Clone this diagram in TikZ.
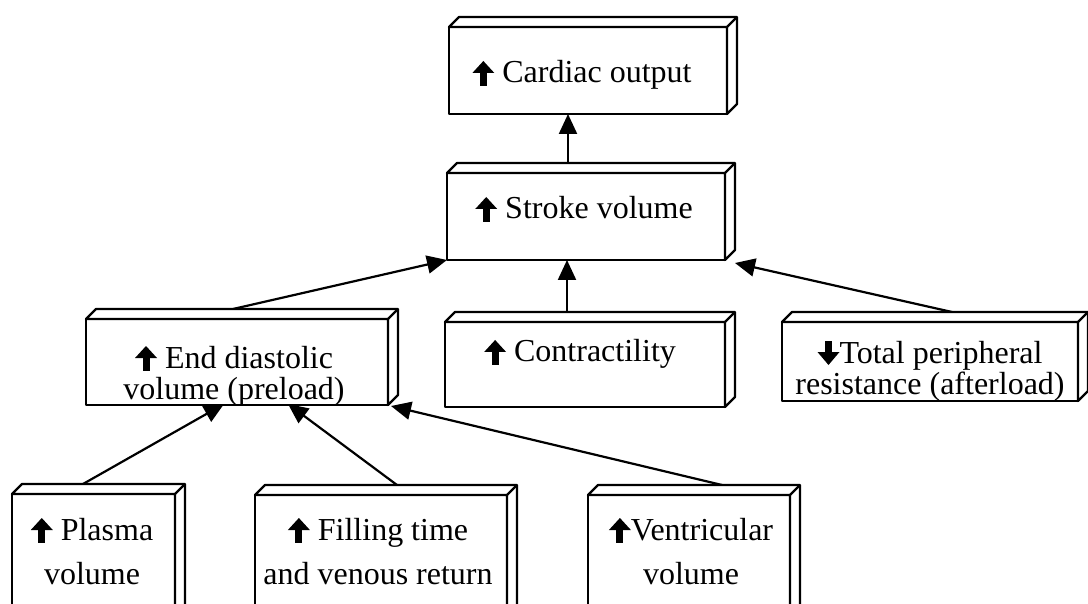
\documentclass[tikz,border=0pt]{standalone}
\usepackage{fontspec}
\setmainfont{Liberation Serif}
\usetikzlibrary{arrows.meta,calc}
\pgfdeclarelayer{back}
\pgfdeclarelayer{bg}
\pgfsetlayers{back,bg,main}
\newcommand{\UpArr}{\tikz[baseline=0pt,x=1pt,y=1pt]{\fill (-3.5,-3) rectangle (3.5,11); \fill (-11,10) -- (0,22) -- (11,10) -- cycle;}}
\newcommand{\DnArr}{\tikz[baseline=0pt,x=1pt,y=1pt]{\fill (-3.5,22) rectangle (3.5,9); \fill (-11,11) -- (0,-2) -- (11,11) -- cycle;}}
\newcommand{\twol}[3][0pt]{\begin{tabular}[t]{@{}c@{}}#2\\[#1]#3\end{tabular}}
\tikzset{
  front/.style={draw, fill=white, line width=2.3pt, line join=round, rectangle, inner sep=0pt, outer sep=0pt},
  face/.style={draw, fill=white, line width=2.3pt, line join=round},
  lbl/.style={inner sep=0pt, anchor=base, font=\fontsize{32}{30}\selectfont},
  conn/.style={line width=2.2pt, -{Triangle[length=20pt,width=18pt]}},
}
\newcommand{\cubefaces}[1]{%
  \filldraw[face] (#1.north west) -- ++(10,-10) -- ([shift={(10,-10)}]#1.north east) -- ([shift={(10,-10)}]#1.south east) -- (#1.south east) -- (#1.north east) -- cycle;
  \draw[face] (#1.north east) -- ++(10,-10);}
\begin{document}
\begin{tikzpicture}[x=1pt,y=-1pt]
\useasboundingbox (0,0) rectangle (1088,604);
\clip (0,0) rectangle (1088,604);
\begin{pgfonlayer}{back}
\fill[white] (0,0) rectangle (1088,604);
\end{pgfonlayer}

% boxes (front faces)
\node[front, minimum width=278pt, minimum height=87pt] (cardiac) at (588,70.5) {};
\node[front, minimum width=278pt, minimum height=87pt] (stroke) at (586,216.5) {};
\node[front, minimum width=302pt, minimum height=86pt] (edv) at (237,362) {};
\node[front, minimum width=280pt, minimum height=85pt] (contr) at (585,364.5) {};
\node[front, minimum width=296pt, minimum height=79pt] (tpr) at (930,361.5) {};
\node[front, minimum width=163pt, minimum height=126pt] (plasma) at (93.5,557) {};
\node[front, minimum width=252pt, minimum height=125pt] (fill) at (381,557.5) {};
\node[front, minimum width=202pt, minimum height=125pt] (vent) at (689,557.5) {};

\cubefaces{cardiac}
\cubefaces{stroke}
\cubefaces{edv}
\cubefaces{contr}
\cubefaces{tpr}
\cubefaces{plasma}
\cubefaces{fill}
\cubefaces{vent}

% labels
\node[lbl] (cardiacT) at (582,83) {\UpArr\ Cardiac output};
\node[lbl] (strokeT) at (584,219) {\UpArr\ Stroke volume};
\node[lbl] (edvT) at (234,368) {\twol{\UpArr\ End diastolic}{volume (preload)}};
\node[lbl] (contrT) at (580,362) {\UpArr\ Contractility};
\node[lbl] (tprT) at (930,363) {\twol{\DnArr Total peripheral}{resistance (afterload)}};
\node[lbl] (plasmaT) at (92,540) {\twol[13pt]{\UpArr\ Plasma}{volume}};
\node[lbl] (fillT) at (378,540) {\twol[13pt]{\UpArr\ Filling time}{and venous return}};
\node[lbl] (ventT) at (691,540) {\twol[13pt]{\UpArr Ventricular}{volume}};

% connectors
\begin{pgfonlayer}{bg}
\coordinate (sTop) at ([xshift=121pt,yshift=10pt]stroke.north west);
\draw[conn] (sTop) -- (sTop |- cardiac.south);
\coordinate (cTop) at ([xshift=122pt,yshift=10pt]contr.north west);
\draw[conn] (cTop) -- (cTop |- stroke.south);
\draw[conn] ([xshift=147pt,yshift=10pt]edv.north west) -- (stroke.south west);
\draw[conn] ([xshift=170pt,yshift=10pt]tpr.north west) -- ([xshift=10pt,yshift=-3pt]stroke.south east);
\draw[conn] ([xshift=71pt,yshift=10pt]plasma.north west) -- ([xshift=138pt,yshift=1pt]edv.south west);
\draw[conn] ([xshift=142pt,yshift=10pt]fill.north west) -- ([xshift=202pt,yshift=1pt]edv.south west);
\draw[conn] ([xshift=134pt,yshift=10pt]vent.north west) -- ([xshift=3pt,yshift=-1pt]edv.south east);
\end{pgfonlayer}
\end{tikzpicture}
\end{document}
